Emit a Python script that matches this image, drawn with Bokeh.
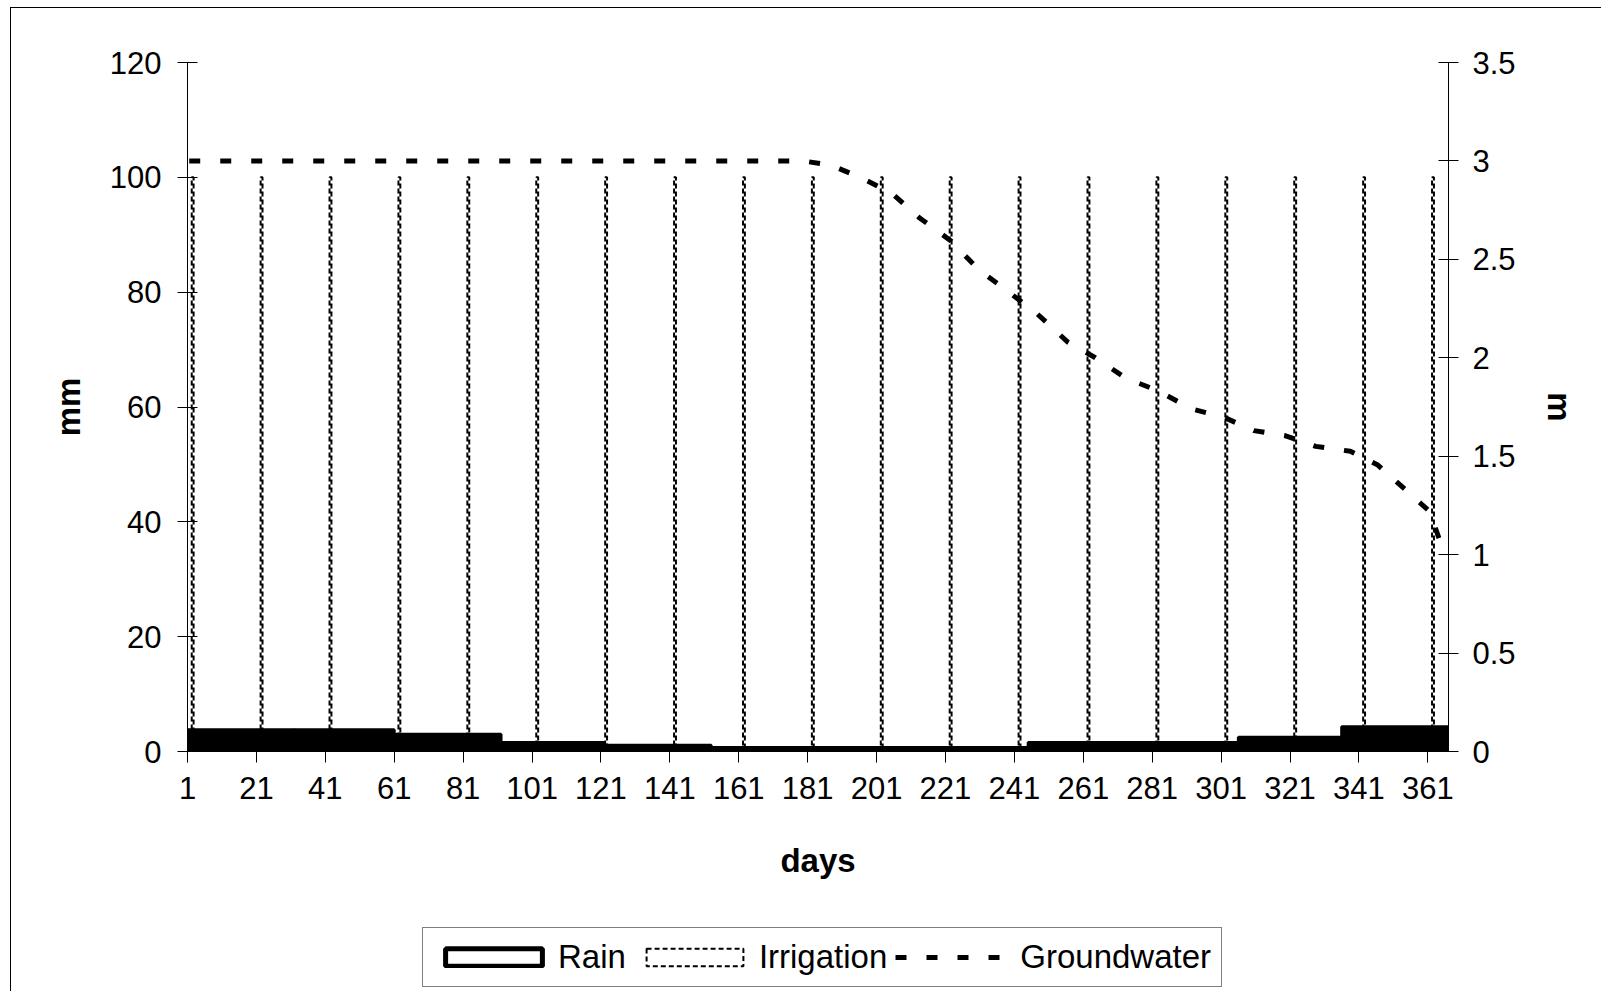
from bokeh.plotting import figure
from bokeh.layouts import column
from bokeh.models import (Range1d, LinearAxis, FixedTicker, Legend, LegendItem,
                          ColumnDataSource)
from bokeh.embed import file_html
from bokeh.resources import INLINE

# ---------------- data ----------------
month_start_day = [1, 32, 61, 92, 122, 153, 183, 214, 245, 275, 306, 336]
month_length = [31, 29, 31, 30, 31, 30, 31, 31, 30, 31, 30, 31]
rain_mm = [3.8, 3.8, 3.0, 1.55, 1.1, 0.7, 0.7, 0.7, 1.55, 1.55, 2.5, 4.3]

irrigation_days = [2, 22, 42, 62, 82, 102, 122, 142, 162, 182,
                   202, 222, 242, 262, 282, 302, 322, 342, 362]
irrigation_mm = [100, 100, 100, 100, 100, 100, 100, 100, 100, 100,
                 100, 100, 100, 100, 100, 100, 100, 100, 100]

gw_days = [1, 179, 187, 196, 205, 213, 222, 230, 238, 247, 256, 264, 273,
           282, 292, 301, 310, 319, 328, 338, 346, 354, 361, 365]
gw_m = [3.0, 3.0, 2.98, 2.915, 2.835, 2.71, 2.595, 2.45, 2.345, 2.225, 2.08,
        2.0, 1.895, 1.834, 1.74, 1.70, 1.63, 1.605, 1.55, 1.525, 1.455, 1.33,
        1.22, 1.02]

x_tick_days = [1, 21, 41, 61, 81, 101, 121, 141, 161, 181, 201, 221, 241,
               261, 281, 301, 321, 341, 361]
x_tick_labels = ["1", "21", "41", "61", "81", "101", "121", "141", "161",
                 "181", "201", "221", "241", "261", "281", "301", "321",
                 "341", "361"]
y_left_ticks = [0, 20, 40, 60, 80, 100, 120]
y_right_ticks = [0, 0.5, 1, 1.5, 2, 2.5, 3, 3.5]
y_right_labels = ["0", "0.5", "1", "1.5", "2", "2.5", "3", "3.5"]
series_names = ["Rain", "Irrigation", "Groundwater"]

FONT = "Liberation Sans"
TICK_SIZE = "31px"
LABEL_SIZE = "33px"
LEGEND_SIZE = "33px"

# ---------------- main chart ----------------
p = figure(width=1590, height=897, output_backend="svg", toolbar_location=None,
           x_range=Range1d(0.5, 366.5), y_range=Range1d(0, 120),
           min_border_left=176, min_border_right=153, min_border_top=54,
           min_border_bottom=154)
p.outline_line_color = None
p.xgrid.visible = False
p.ygrid.visible = False
p.background_fill_color = "white"
p.border_fill_color = "white"
p.extra_y_ranges = {"m": Range1d(0, 3.5)}

# irrigation columns (dashed outline)
irr_src = ColumnDataSource(dict(x=irrigation_days, top=irrigation_mm))
p.vbar(x="x", top="top", bottom=0, width=0.55, source=irr_src,
       fill_color=None, line_color="black", line_width=2, line_dash="5 3")

# rain columns (solid black)
rain_x = [s + n / 2 - 0.5 for s, n in zip(month_start_day, month_length)]
rain_src = ColumnDataSource(dict(x=rain_x, w=month_length, top=rain_mm))
p.vbar(x="x", width="w", top="top", bottom=0, source=rain_src,
       fill_color="black", line_color="black", line_width=3)

# groundwater line on right axis
gw_src = ColumnDataSource(dict(x=gw_days, y=gw_m))
p.line(x="x", y="y", source=gw_src, y_range_name="m", line_color="black",
       line_width=5, line_dash="11 20")

# axes
xa = p.xaxis[0]
xa.ticker = FixedTicker(ticks=[d - 0.5 for d in x_tick_days])
xa.major_label_overrides = {d - 0.5: lab for d, lab in zip(x_tick_days, x_tick_labels)}
xa.axis_label = "days"
xa.major_tick_in = 0
xa.major_tick_out = 11
xa.minor_tick_line_color = None
xa.major_label_standoff = 14
xa.axis_label_standoff = 40

ya = p.yaxis[0]
ya.ticker = FixedTicker(ticks=y_left_ticks)
ya.axis_label = "mm"
ya.major_tick_in = 10
ya.major_tick_out = 10
ya.minor_tick_line_color = None
ya.major_label_standoff = 16
ya.axis_label_standoff = 20

ra = LinearAxis(y_range_name="m", axis_label="m")
ra.ticker = FixedTicker(ticks=y_right_ticks)
ra.major_label_overrides = {t: lab for t, lab in zip(y_right_ticks, y_right_labels)}
ra.major_tick_in = 10
ra.major_tick_out = 10
ra.minor_tick_line_color = None
ra.major_label_standoff = 14
ra.axis_label_standoff = 22
p.add_layout(ra, "right")

for ax in (xa, ya, ra):
    ax.axis_line_color = "black"
    ax.major_tick_line_color = "black"
    ax.major_label_text_font = FONT
    ax.major_label_text_font_size = TICK_SIZE
    ax.major_label_text_color = "black"
    ax.axis_label_text_font = FONT
    ax.axis_label_text_font_size = LABEL_SIZE
    ax.axis_label_text_font_style = "bold"
    ax.axis_label_text_color = "black"

# ---------------- legend strip ----------------
lp = figure(width=1590, height=86, output_backend="svg", toolbar_location=None,
            x_range=Range1d(0, 1), y_range=Range1d(0, 1),
            x_axis_location=None, y_axis_location=None,
            min_border_left=0, min_border_right=0, min_border_top=0,
            min_border_bottom=0)
lp.outline_line_color = None
lp.xgrid.visible = False
lp.ygrid.visible = False
lp.background_fill_color = "white"
lp.border_fill_color = "white"

# tiny legend sample glyphs, hidden underneath the legend box
leg_rain = lp.vbar(x=[0.5], top=[0.5005], bottom=[0.5], width=0.0005,
                   fill_color="white", line_color="black", line_width=5)
leg_irr = lp.vbar(x=[0.5], top=[0.5005], bottom=[0.5], width=0.0005,
                  fill_color="white", line_color="black", line_width=2,
                  line_dash="5 3")
leg_gw = lp.line(x=[0.5, 0.5005], y=[0.5, 0.5], line_color="black",
                 line_width=5, line_dash="11 20")

legend = Legend(items=[LegendItem(label=series_names[0], renderers=[leg_rain]),
                       LegendItem(label=series_names[1], renderers=[leg_irr]),
                       LegendItem(label=series_names[2], renderers=[leg_gw])],
                orientation="horizontal", location=(235, 4))
legend.glyph_width = 121
legend.glyph_height = 22
legend.label_standoff = 4
legend.spacing = 8
legend.padding = 10
legend.margin = 0
legend.border_line_color = "black"
legend.border_line_width = 1
legend.background_fill_color = "white"
legend.background_fill_alpha = 1
legend.label_text_font = FONT
legend.label_text_font_size = LEGEND_SIZE
legend.label_text_color = "black"
lp.add_layout(legend, "center")

layout = column(p, lp, spacing=0, margin=(7, 0, 0, 10),
                styles={"border-left": "1px solid #000000",
                        "border-top": "1px solid #000000"})

open("out.html", "w").write(file_html(layout, INLINE))
